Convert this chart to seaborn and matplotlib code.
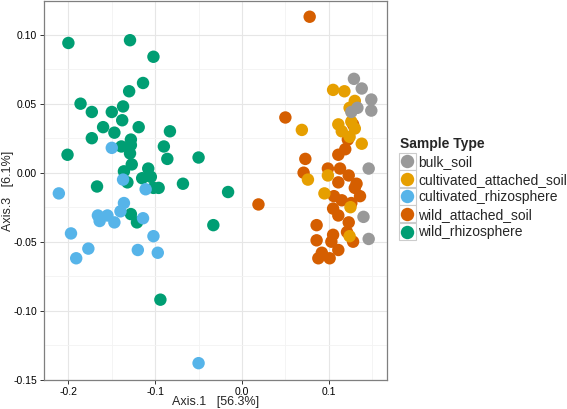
import numpy as np
import pandas as pd
import matplotlib
matplotlib.use("Agg")
import matplotlib.pyplot as plt
import seaborn as sns
from matplotlib.patches import Rectangle
from matplotlib.ticker import MultipleLocator, FixedLocator

# Ordination scores (Axis.1, Axis.3)
bulk_soil_x = [0.129, 0.138, 0.149, 0.149, 0.133, 0.126, 0.146, 0.140, 0.146]
bulk_soil_y = [0.068, 0.061, 0.053, 0.045, 0.047, 0.044, 0.003, -0.032, -0.048]

cult_soil_x = [0.105, 0.118, 0.130, 0.124, 0.069, 0.111, 0.126, 0.115, 0.130, 0.124,
               0.138, 0.076, 0.099, 0.095, 0.125, 0.124]
cult_soil_y = [0.060, 0.059, 0.052, 0.047, 0.031, 0.035, 0.037, 0.030, 0.032, 0.026,
               0.021, -0.005, -0.002, -0.015, -0.025, -0.046]

cult_rhizo_x = [-0.150, -0.137, -0.111, -0.211, -0.136, -0.166, -0.155, -0.164, -0.147,
                -0.140, -0.114, -0.197, -0.177, -0.191, -0.102, -0.120, -0.097, -0.050]
cult_rhizo_y = [0.018, -0.005, -0.012, -0.015, -0.022, -0.031, -0.031, -0.035, -0.036,
                -0.028, -0.033, -0.044, -0.055, -0.062, -0.046, -0.056, -0.058, -0.138]

wild_soil_x = [0.078, 0.050, 0.128, 0.122, 0.073, 0.111, 0.071, 0.019, 0.099, 0.113,
               0.123, 0.111, 0.132, 0.136, 0.106, 0.105, 0.126, 0.111, 0.123, 0.086,
               0.105, 0.121, 0.086, 0.103, 0.128, 0.111, 0.092, 0.101, 0.088, 0.119,
               0.130, 0.115]
wild_soil_y = [0.113, 0.040, 0.035, 0.024, 0.010, 0.013, 0.000, -0.023, 0.003, 0.003,
               -0.002, -0.007, -0.008, -0.017, -0.017, -0.026, -0.022, -0.031, -0.036, -0.038,
               -0.045, -0.043, -0.049, -0.050, -0.050, -0.056, -0.058, -0.062, -0.062, 0.017,
               -0.011, -0.020]

wild_rhizo_x = [-0.200, -0.129, -0.102, -0.114, -0.130, -0.186, -0.173, -0.150, -0.137, -0.138,
                -0.160, -0.147, -0.119, -0.083, -0.173, -0.128, -0.139, -0.128, -0.090, -0.201,
                -0.129, -0.086, -0.050, -0.127, -0.108, -0.136, -0.115, -0.105, -0.132, -0.102,
                -0.096, -0.167, -0.068, -0.016, -0.128, -0.121, -0.033, -0.094]
wild_rhizo_y = [0.094, 0.096, 0.084, 0.065, 0.059, 0.050, 0.044, 0.044, 0.048, 0.038,
                0.033, 0.029, 0.033, 0.030, 0.025, 0.024, 0.019, 0.020, 0.019, 0.013,
                0.014, 0.010, 0.011, 0.006, 0.003, 0.001, -0.004, -0.003, -0.007, -0.011,
                -0.011, -0.010, -0.008, -0.014, -0.030, -0.036, -0.038, -0.092]

groups = ["bulk_soil", "cultivated_attached_soil", "cultivated_rhizosphere",
          "wild_attached_soil", "wild_rhizosphere"]
colors = ["#999999", "#E69F00", "#56B4E9", "#D55E00", "#009E73"]

parts = [
    ("wild_rhizosphere", wild_rhizo_x, wild_rhizo_y),
    ("cultivated_rhizosphere", cult_rhizo_x, cult_rhizo_y),
    ("wild_attached_soil", wild_soil_x, wild_soil_y),
    ("cultivated_attached_soil", cult_soil_x, cult_soil_y),
    ("bulk_soil", bulk_soil_x, bulk_soil_y),
]
df = pd.concat([pd.DataFrame({"Axis.1": x, "Axis.3": y, "Sample Type": g}) for g, x, y in parts],
               ignore_index=True)

sns.set_style("white")
plt.rcParams["font.family"] = ["Liberation Sans", "DejaVu Sans"]
plt.rcParams["axes.unicode_minus"] = False

fig = plt.figure(figsize=(5.67, 4.09), dpi=100)
ax = fig.add_axes([44 / 567, 29 / 409, 343 / 567, 379 / 409])

sns.scatterplot(data=df, x="Axis.1", y="Axis.3", hue="Sample Type", hue_order=groups,
                palette=colors, s=80, linewidth=0, alpha=1, ax=ax, zorder=3)

ax.set_xlim(-0.2281, 0.1671)
ax.set_ylim(-0.1502, 0.1244)
ax.xaxis.set_major_locator(FixedLocator([-0.2, -0.1, 0.0, 0.1]))
ax.xaxis.set_minor_locator(FixedLocator([-0.15, -0.05, 0.05, 0.15]))
ax.yaxis.set_major_locator(MultipleLocator(0.05))
ax.yaxis.set_minor_locator(FixedLocator([-0.125, -0.075, -0.025, 0.025, 0.075, 0.125]))
ax.set_xticklabels(["-0.2", "-0.1", "0.0", "0.1"])
ax.set_yticks([-0.15, -0.10, -0.05, 0.0, 0.05, 0.10])
ax.set_yticklabels(["-0.15", "-0.10", "-0.05", "0.00", "0.05", "0.10"])

ax.grid(which="major", color="#e6e6e6", linewidth=0.8, zorder=0)
ax.grid(which="minor", color="#f3f3f3", linewidth=0.6, zorder=0)
ax.set_axisbelow(True)
for sp in ax.spines.values():
    sp.set_color("#7f7f7f")
    sp.set_linewidth(0.9)
ax.tick_params(axis="both", which="major", length=3, width=0.7, color="#333333",
               labelsize=7.5, labelcolor="black", pad=2, direction="out")
ax.tick_params(axis="both", which="minor", length=0)
ax.tick_params(axis="x", bottom=True)
ax.tick_params(axis="y", left=True)

ax.set_xlabel("Axis.1   [56.3%]", fontsize=9, va="center")
ax.set_ylabel("Axis.3   [6.1%]", fontsize=9, va="center")
ax.xaxis.set_label_coords(0.5, (380 - 401.5) / 379)
ax.yaxis.set_label_coords((8 - 44) / 343, 0.5)

leg = ax.legend(title="Sample Type", loc="upper left", bbox_to_anchor=(1.0204, 0.655),
                frameon=False, fontsize=10, title_fontsize=10, handlelength=1.1,
                handletextpad=0.25, labelspacing=0.26, borderaxespad=0, markerscale=1.08)
leg.get_title().set_fontweight("bold")
leg._legend_box.align = "left"

fig.canvas.draw()
inv = fig.transFigure.inverted()
for h in leg.legend_handles:
    bb = h.get_window_extent(fig.canvas.get_renderer())
    cx, cy = (bb.x0 + bb.x1) / 2, (bb.y0 + bb.y1) / 2
    w = 17
    (fx, fy) = inv.transform((cx - w / 2, cy - w / 2))
    fw, fh = w / 567, w / 409
    fig.patches.append(Rectangle((fx, fy), fw, fh, transform=fig.transFigure,
                                 facecolor="white", edgecolor="#cccccc", linewidth=0.8,
                                 zorder=-1))

fig.savefig("out.png", dpi=100)
